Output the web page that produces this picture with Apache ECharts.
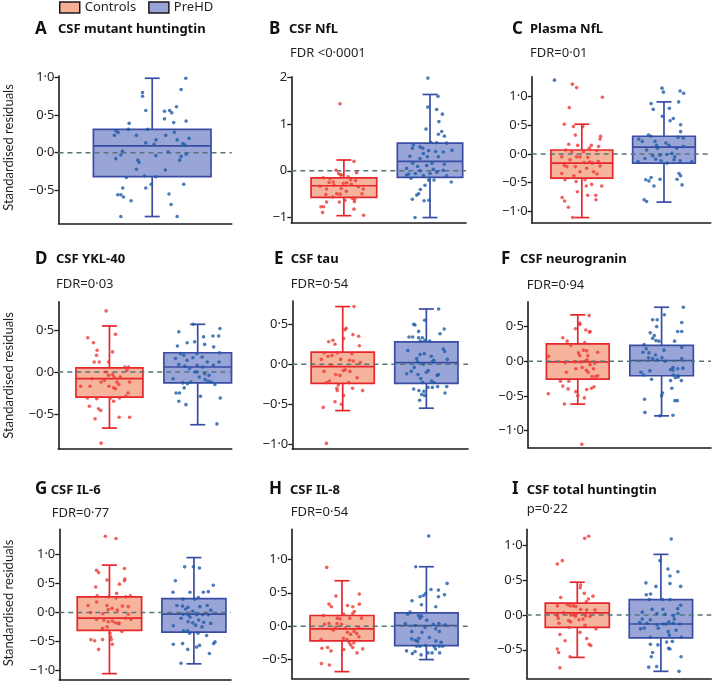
<!DOCTYPE html>
<html>
<head>
<meta charset="utf-8">
<script src="https://cdn.jsdelivr.net/npm/echarts@6/dist/echarts.min.js"></script>
<style>
html,body{margin:0;padding:0;background:#fff;}
#chart{width:714px;height:681px;}
</style>
</head>
<body>
<div id="chart"></div>
<script>
// ---------- DATA ----------
const groupNames = ['Controls', 'PreHD'];

// Tick values and labels
const aTicks = [-0.5, 0, 0.5, 1];      const aTickLabels = ['\u22120\u00b75', '0\u00b70', '0\u00b75', '1\u00b70'];
const bTicks = [-1, 0, 1, 2];          const bTickLabels = ['\u22121', '0', '1', '2'];
const cTicks = [-1, -0.5, 0, 0.5, 1];  const cTickLabels = ['\u22121\u00b70', '\u22120\u00b75', '0\u00b70', '0\u00b75', '1\u00b70'];
const dTicks = [-0.5, 0, 0.5];         const dTickLabels = ['\u22120\u00b75', '0\u00b70', '0\u00b75'];
const eTicks = [-1, -0.5, 0, 0.5];     const eTickLabels = ['\u22121\u00b70', '\u22120\u00b75', '0\u00b70', '0\u00b75'];
const fTicks = [-1, -0.5, 0, 0.5];     const fTickLabels = ['\u22121\u00b70', '\u22120\u00b75', '0\u00b70', '0\u00b75'];
const gTicks = [-1, -0.5, 0, 0.5, 1];  const gTickLabels = ['\u22121\u00b70', '\u22120\u00b75', '0\u00b70', '0\u00b75', '1\u00b70'];
const hTicks = [-0.5, 0, 0.5, 1];      const hTickLabels = ['\u22120\u00b75', '0\u00b70', '0\u00b75', '1\u00b70'];
const iTicks = [-0.5, 0, 0.5, 1];      const iTickLabels = ['\u22120\u00b75', '0\u00b70', '0\u00b75', '1\u00b70'];

// Box statistics: [min whisker, Q1, median, Q3, max whisker]
const mhttPreBox = [-0.85, -0.32, 0.09, 0.31, 0.99];
const csfNflCtrlBox = [-0.96, -0.57, -0.32, -0.15, 0.23];
const csfNflPreBox = [-1.0, -0.14, 0.20, 0.59, 1.63];
const plNflCtrlBox = [-1.11, -0.42, -0.16, 0.07, 0.52];
const plNflPreBox = [-0.84, -0.16, 0.12, 0.31, 0.91];
const yklCtrlBox = [-0.67, -0.30, -0.08, 0.05, 0.55];
const yklPreBox = [-0.63, -0.13, 0.06, 0.23, 0.57];
const tauCtrlBox = [-0.58, -0.24, -0.03, 0.15, 0.72];
const tauPreBox = [-0.55, -0.24, 0.02, 0.28, 0.69];
const ngCtrlBox = [-0.62, -0.26, -0.01, 0.25, 0.67];
const ngPreBox = [-0.79, -0.21, 0.01, 0.23, 0.78];
const il6CtrlBox = [-1.06, -0.31, -0.10, 0.27, 0.82];
const il6PreBox = [-0.89, -0.34, -0.03, 0.24, 0.95];
const il8CtrlBox = [-0.68, -0.22, -0.04, 0.16, 0.68];
const il8PreBox = [-0.50, -0.29, 0.01, 0.20, 0.89];
const thttCtrlBox = [-0.61, -0.18, 0.03, 0.17, 0.47];
const thttPreBox = [-0.81, -0.33, -0.13, 0.22, 0.87];

// Individual residuals: [jitter position (0-100 across panel), standardised residual]
const mhttPre = [[73.5,0.99],[70.8,0.84],[48.5,0.80],[48.5,0.75],[50.4,0.56],[68.1,0.61],[61.2,0.55],[64.2,0.56],[65.4,0.53],[61.2,0.45],[66.5,0.40],[73.7,0.42],[40.8,0.39],[40.4,0.31],[51.5,0.31],[33.1,0.29],[34.4,0.27],[32.3,0.23],[45,0.23],[61.9,0.23],[66.9,0.27],[68.5,0.17],[75.4,0.19],[56.3,0.17],[50.4,0.13],[55.2,0.11],[71.9,0.12],[73.1,0.10],[36.9,0.02],[36,-0.03],[33.1,-0.08],[56.2,-0.04],[63.3,0.01],[70.8,-0.05],[70,-0.10],[73.7,-0.02],[45.8,-0.10],[46.5,-0.13],[45,-0.22],[61.7,-0.23],[39.2,-0.33],[49.6,-0.31],[56.2,-0.32],[53.5,-0.42],[50.4,-0.47],[37.1,-0.47],[72.3,-0.42],[34.2,-0.56],[36,-0.56],[37.5,-0.59],[63.8,-0.55],[41.9,-0.64],[65,-0.69],[36,-0.85],[68.5,-0.85]];

const csfNflCtrl = [[27.9,1.43],[35.9,0.20],[25.6,0.01],[27.1,-0.06],[28.8,-0.09],[37.4,-0.04],[18.3,-0.15],[22.1,-0.17],[34,-0.19],[36.8,-0.21],[21.6,-0.25],[29.8,-0.27],[31.7,-0.26],[34.4,-0.29],[24.4,-0.31],[20.2,-0.39],[28.6,-0.38],[41.2,-0.39],[31.5,-0.44],[26,-0.49],[19.8,-0.51],[27.9,-0.50],[40.5,-0.49],[23.7,-0.56],[34.9,-0.59],[36.3,-0.61],[30.7,-0.63],[20.2,-0.67],[27.5,-0.67],[36.1,-0.66],[17,-0.77],[18.5,-0.77],[17.9,-0.89],[35.9,-0.82],[41.4,-0.95],[28.2,-0.09],[32.6,-0.13],[24,-0.24],[38.4,-0.34],[16.4,-0.33]];
const csfNflPre = [[78.2,1.98],[84,1.59],[78.1,1.36],[83.2,1.31],[86.5,1.21],[84.5,1.05],[77.1,0.89],[86.1,0.84],[84.2,0.78],[87.6,0.74],[79.8,0.61],[83.2,0.60],[88.9,0.59],[69.8,0.55],[73.7,0.51],[69.3,0.48],[78.6,0.43],[82.6,0.41],[92,0.44],[87,0.40],[75.6,0.37],[67.9,0.31],[77.9,0.30],[84.2,0.30],[73.7,0.26],[69.5,0.16],[80.5,0.16],[87.6,0.14],[72.3,0.09],[77.5,0.11],[66,0.05],[81.3,0.03],[73.7,0.0],[83.4,-0.03],[71,-0.06],[79.4,-0.06],[67.2,-0.07],[75.6,-0.10],[88.9,-0.11],[68.5,-0.16],[78.6,-0.20],[81.7,-0.20],[91.6,-0.24],[76.5,-0.31],[73.9,-0.40],[72.9,-0.49],[71.8,-0.52],[69.3,-0.61],[76,-0.64],[78.8,-0.63],[70.8,-1.0],[66,-0.09],[87,0.01],[75.2,0.48]];

const plNflCtrl = [[22.7,1.22],[25.1,1.16],[39.5,0.99],[21,0.81],[18.2,0.52],[28.5,0.48],[23.3,0.48],[24.4,0.33],[38.5,0.31],[38.2,0.26],[20.7,0.17],[25.7,0.15],[33.3,0.15],[37.4,0.13],[32.2,0.10],[19,0.07],[28.9,0.04],[36.3,0.06],[16.8,-0.05],[25.1,-0.05],[31.3,-0.06],[21.4,-0.10],[37.2,-0.13],[29.2,-0.15],[32.4,-0.14],[33.9,-0.16],[18.2,-0.20],[19.6,-0.22],[24.4,-0.22],[38.2,-0.21],[30.7,-0.25],[16.8,-0.34],[27,-0.31],[34.6,-0.31],[36.5,-0.35],[23.6,-0.38],[18.6,-0.45],[24.8,-0.48],[29.8,-0.45],[33.5,-0.53],[39.1,-0.56],[30.5,-0.56],[25.5,-0.66],[31.3,-0.72],[35.8,-0.72],[17,-0.76],[18.4,-0.82],[35.9,-0.80],[20.5,-0.93],[22.9,-1.11],[27,-0.05],[22.3,0.04]];
const plNflPre = [[12.7,1.29],[72.8,1.15],[73.6,1.08],[82.9,1.10],[84.9,1.06],[66.7,0.88],[82.1,0.91],[67.9,0.78],[76.9,0.80],[73,0.66],[79.1,0.62],[77.3,0.58],[83.2,0.51],[83.2,0.39],[65.2,0.33],[66.7,0.31],[81.8,0.29],[84.7,0.28],[59.8,0.26],[61.8,0.22],[68.9,0.22],[75,0.19],[76.7,0.15],[84.7,0.13],[70.2,0.10],[64.2,0.07],[81,0.10],[78.4,0.01],[71.7,-0.02],[75.4,-0.01],[67.6,-0.03],[69.3,-0.09],[63.3,-0.08],[72.3,-0.12],[79.5,-0.10],[82.9,-0.12],[59.4,-0.13],[89.4,-0.13],[75.6,-0.16],[82.3,-0.34],[83.2,-0.38],[66.7,-0.41],[71.7,-0.44],[63.7,-0.45],[65.5,-0.47],[81.2,-0.44],[68.3,-0.56],[84,-0.54],[64.2,-0.83],[62.8,-0.80],[79.9,-0.05],[69.8,0.15]];

const yklCtrl = [[27.6,0.73],[17,0.41],[20.3,0.35],[33,0.45],[22.4,0.26],[22,0.20],[31.3,0.24],[20.7,0.12],[23.6,0.12],[29,0.12],[38.4,0.06],[40.5,0.06],[39.6,0.02],[27.4,0.0],[31.3,-0.03],[29,-0.04],[19.3,-0.08],[32.2,-0.06],[24.7,-0.12],[33.8,-0.12],[41.1,-0.12],[12.9,-0.17],[18.3,-0.17],[29.2,-0.17],[31.9,-0.19],[33,-0.20],[34.9,-0.15],[40.2,-0.25],[39,-0.29],[16.8,-0.31],[22.2,-0.32],[30.3,-0.31],[31.9,-0.35],[35.3,-0.31],[17.9,-0.41],[23.2,-0.44],[24.5,-0.46],[21.2,-0.56],[35.1,-0.54],[41.1,-0.54],[24.7,-0.85],[26.6,-0.10],[35.7,-0.06]];
const yklPre = [[91.5,0.85],[77.8,0.57],[93.2,0.52],[69.5,0.48],[83.8,0.42],[89.2,0.43],[92.5,0.43],[78.6,0.36],[74.3,0.35],[68.7,0.31],[84.4,0.33],[89.6,0.30],[92.9,0.23],[70.5,0.22],[72.4,0.20],[79.9,0.22],[83,0.18],[67.6,0.16],[74.3,0.14],[77.6,0.17],[92.7,0.12],[85.9,0.12],[69.5,0.09],[73,0.07],[80.1,0.08],[83.2,0.06],[89.4,0.08],[75.7,0.04],[78.8,0.0],[84.4,-0.02],[86.9,-0.04],[81.3,-0.06],[84.7,-0.09],[66.2,-0.08],[76.4,-0.12],[86.5,-0.11],[88.2,-0.12],[71.8,-0.13],[74.5,-0.14],[90.3,-0.15],[67.9,-0.25],[69.9,-0.25],[72.6,-0.19],[93.4,-0.31],[82,-0.29],[69.5,-0.35],[73.6,-0.39],[91.5,-0.62],[80.1,0.0]];

const tauCtrl = [[35.1,0.72],[30.7,0.45],[30,0.43],[34.5,0.37],[37.8,0.35],[29.2,0.32],[23.1,0.30],[20.7,0.28],[24.3,0.25],[38.2,0.23],[18.1,0.14],[25.6,0.14],[33.9,0.13],[20.3,0.10],[22.6,0.11],[16.5,0.06],[27.5,0.06],[34.7,0.04],[38.7,0.02],[30.2,-0.07],[29.1,-0.08],[22,-0.01],[18,-0.09],[24.7,-0.13],[27.1,-0.14],[21.1,-0.21],[36.9,-0.17],[19.4,-0.23],[32.1,-0.23],[26.2,-0.26],[25.4,-0.30],[34.3,-0.30],[40,-0.33],[25.6,-0.33],[29.2,-0.39],[24.3,-0.47],[27.9,-0.50],[17.6,-0.54],[19.4,-0.99],[32.6,0.05],[32.8,-0.09]];
const tauPre = [[83.3,0.69],[75.3,0.55],[69.1,0.50],[69.8,0.49],[86.5,0.44],[71.9,0.41],[84.1,0.38],[66.4,0.34],[68.5,0.34],[71.9,0.33],[74,0.33],[75.5,0.30],[78.2,0.29],[72.9,0.29],[65.8,0.17],[85.9,0.19],[86.7,0.16],[72.7,0.12],[75.1,0.13],[79.1,0.10],[70.8,0.07],[80.5,0.05],[88.2,0.06],[79.6,0.03],[71.3,0.03],[67.7,-0.09],[76.3,-0.10],[74.6,0.0],[71.5,-0.13],[82.4,-0.14],[83.1,-0.13],[73.1,-0.18],[79.3,-0.21],[65.1,-0.12],[80.6,-0.23],[74.2,-0.23],[77.2,-0.29],[79.7,-0.29],[82.7,-0.28],[87.9,-0.28],[69.1,-0.31],[72.1,-0.33],[74.9,-0.34],[73.6,-0.38],[86.9,-0.36],[75.3,-0.39],[72.5,-0.45],[77.4,-0.08],[69.4,-0.04]];

const ngCtrl = [[33.4,0.66],[28.3,0.53],[25.9,0.47],[31.6,0.45],[33.9,0.43],[33.6,0.42],[28.3,0.55],[19,0.34],[21.4,0.29],[31,0.27],[23.4,0.23],[30.3,0.16],[32.1,0.15],[27.6,0.12],[38.1,0.13],[28.3,0.08],[32.7,0.08],[11.3,0.07],[32.3,0.02],[20.3,-0.02],[25.5,-0.01],[28.8,-0.01],[31,0.0],[36.5,-0.03],[33.9,-0.05],[29.6,-0.09],[26.1,-0.11],[31.9,-0.13],[35.8,-0.11],[21,-0.16],[32.8,-0.16],[35,-0.22],[37,-0.22],[38.1,-0.21],[17.7,-0.29],[22.3,-0.29],[19,-0.36],[36.1,-0.37],[34.7,-0.39],[21.9,-0.40],[32.1,-0.41],[26.1,-0.44],[11.1,-0.47],[27.2,-0.50],[30.8,-0.53],[19.9,-0.62],[29.4,-1.2]];
const ngPre = [[84.9,0.78],[74.5,0.67],[70.6,0.60],[68.1,0.60],[70.3,0.50],[84,0.56],[81.8,0.43],[84,0.43],[66.8,0.41],[69,0.37],[68.1,0.33],[71.5,0.29],[69.9,0.30],[80.1,0.29],[63.5,0.24],[84,0.20],[64.6,0.18],[62.8,0.13],[66.1,0.12],[74.3,0.16],[69.7,0.09],[65.9,0.05],[68.1,0.04],[70.6,0.02],[73.2,0.05],[84,0.04],[74.9,0.0],[79.2,-0.09],[81.8,-0.11],[84.7,-0.10],[77.9,-0.12],[79.2,-0.13],[61.7,-0.16],[66.6,-0.14],[63.1,-0.20],[79.4,-0.20],[81.9,-0.21],[82.1,-0.23],[80.5,-0.24],[67.5,-0.26],[77.9,-0.28],[83.8,-0.28],[78.6,-0.39],[73.5,-0.46],[73,-0.50],[63.7,-0.55],[81.6,-0.57],[80.3,-0.57],[63.9,-0.74],[79.2,-0.78],[72.1,-0.79]];

const il6Ctrl = [[26.8,1.32],[33,1.28],[21.7,0.73],[22.9,0.69],[37.9,0.76],[27.8,0.56],[38.2,0.58],[37.9,0.55],[35,0.49],[21.2,0.44],[33.4,0.33],[41.4,0.29],[22.1,0.29],[28.7,0.27],[38.8,0.27],[33,0.25],[21.7,0.18],[16.7,0.12],[27.8,0.12],[30.7,0.07],[36.7,0.11],[40.2,0.10],[33.8,0.04],[18.3,0.0],[25.4,-0.02],[40.2,-0.03],[38.6,-0.10],[41.7,-0.12],[21.7,-0.12],[26,-0.13],[30.9,-0.15],[28.5,-0.16],[32.6,-0.18],[34.6,-0.19],[25.2,-0.28],[27.8,-0.25],[36.5,-0.33],[29.5,-0.36],[29.9,-0.42],[18.4,-0.47],[20.6,-0.49],[30.3,-0.47],[25.2,-0.47],[30.9,-0.55],[22.9,-0.64],[28.5,0.05],[34.8,-0.19]];
const il6Pre = [[78.1,0.79],[73,0.79],[81.6,0.77],[67.6,0.55],[66.2,0.35],[76.1,0.35],[86.8,0.36],[89.7,0.47],[83.9,0.35],[81,0.26],[72,0.23],[78.8,0.23],[68.5,0.12],[71.8,0.11],[75,0.09],[81.9,0.10],[86.2,0.12],[88.2,0.04],[73.6,0.06],[77.7,0.02],[72.2,-0.03],[75.1,-0.04],[80,-0.04],[83.5,-0.04],[86.8,-0.04],[76.1,-0.08],[70.9,-0.10],[81.2,-0.13],[75,-0.16],[77.7,-0.18],[88.2,-0.19],[84.1,-0.17],[66.4,-0.23],[79.4,-0.22],[83.1,-0.25],[72.4,-0.32],[75.9,-0.36],[80.8,-0.36],[85.8,-0.40],[90.7,-0.51],[89.9,-0.54],[71.8,-0.54],[66.4,-0.55],[81.7,-0.57],[80,-0.60],[74.8,-0.64],[87.4,-0.71],[70.9,-0.88],[74.8,-0.32]];

const il8Ctrl = [[19.8,0.88],[25,0.45],[38.2,0.48],[21.1,0.33],[22.4,0.29],[31.6,0.31],[34.5,0.29],[38.2,0.33],[35.4,0.22],[34.5,0.19],[29.4,0.18],[17.9,0.16],[25.8,0.12],[27.3,0.11],[32.8,0.12],[39.4,0.12],[18.5,0.03],[21.1,0.04],[25.6,0.04],[24.7,-0.02],[30.3,-0.03],[37.9,-0.02],[35.2,-0.08],[31.5,-0.09],[33.3,-0.12],[36.7,-0.11],[29.2,-0.18],[31.3,-0.20],[38,-0.16],[16.6,-0.20],[32.4,-0.24],[35.1,-0.25],[33.3,-0.28],[17.1,-0.33],[20.3,-0.32],[34.5,-0.32],[40.1,-0.34],[29.4,-0.35],[22.2,-0.37],[36.9,-0.40],[16.8,-0.56],[21.3,-0.58],[28.2,0.03],[23.5,-0.06]];
const il8Pre = [[77.4,1.35],[70.1,0.89],[87.8,0.64],[78.7,0.55],[82.9,0.54],[86.3,0.47],[74.4,0.46],[72.5,0.44],[75.7,0.49],[68,0.38],[82.9,0.44],[73.3,0.32],[81.4,0.29],[66.9,0.21],[65.5,0.18],[71.6,0.16],[73.4,0.15],[64.2,0.04],[72.5,0.12],[76.3,0.09],[80,0.03],[83.2,0.04],[69.9,0.01],[75.3,-0.02],[81.4,-0.04],[86.6,0.02],[67.8,-0.08],[73.6,-0.09],[83.4,-0.08],[71.8,-0.18],[67.8,-0.19],[69.9,-0.21],[77.8,-0.17],[81.5,-0.22],[84.4,-0.24],[71.2,-0.23],[70.6,-0.30],[72.5,-0.30],[75.7,-0.29],[80.4,-0.30],[83.4,-0.30],[85.3,-0.30],[81.2,-0.34],[64.9,-0.37],[68.2,-0.41],[77,-0.40],[79.3,-0.40],[83.6,-0.40],[73.1,-0.43],[69.7,-0.38]];

const thttCtrl = [[31.4,1.10],[33.6,1.13],[19.3,0.78],[16.6,0.73],[29.2,0.43],[29,0.39],[31.2,0.31],[35.9,0.27],[18.4,0.25],[33.4,0.23],[32.3,0.19],[22,0.15],[23.5,0.13],[25.3,0.13],[26.7,0.12],[16.6,0.13],[29.2,0.08],[32.5,0.07],[37,0.07],[20,0.03],[25.3,0.0],[27.1,0.02],[16.6,-0.01],[23.8,0.0],[31.9,-0.01],[34.3,-0.02],[17.1,-0.05],[22.7,-0.08],[28.3,-0.07],[30.5,-0.06],[17.5,-0.12],[23.8,-0.10],[31.6,-0.15],[22.9,-0.18],[37.5,-0.20],[28.9,-0.25],[18,-0.28],[32.5,-0.34],[20.8,-0.37],[33.8,-0.42],[34.7,-0.44],[16.6,-0.49],[17.3,-0.54],[23.5,-0.60],[18,-0.76],[26.4,-0.02]];
const thttPre = [[78.3,1.09],[72.2,0.78],[76.5,0.66],[81.9,0.62],[77.6,0.56],[64.6,0.46],[77.6,0.45],[70,0.41],[83.4,0.41],[67.1,0.30],[64.8,0.29],[66.4,0.22],[73.6,0.22],[77.6,0.22],[83.4,0.14],[67.9,0.08],[73.8,0.08],[81.8,0.09],[62.6,0.04],[70.6,0.02],[74.9,0.01],[81.9,0.02],[79.4,-0.01],[62.6,-0.06],[67,-0.07],[61.2,-0.11],[65.2,-0.12],[77.1,-0.10],[79.4,-0.12],[80,-0.06],[70.6,-0.14],[74,-0.13],[75.5,-0.13],[83,-0.13],[61.7,-0.20],[63.7,-0.19],[71.3,-0.19],[76.7,-0.24],[80.9,-0.22],[83.8,-0.32],[67,-0.32],[77.3,-0.29],[78.9,-0.38],[67,-0.42],[71.1,-0.43],[75.8,-0.39],[76.9,-0.48],[77.6,-0.49],[68.2,-0.54],[67.5,-0.60],[83.6,-0.60],[66.1,-0.75],[70.4,-0.74],[82.5,-0.81]];

// ---------- STYLE / LAYOUT ----------
const FONT = '"Noto Sans"';
const NAMEFONT = 'Lato';
const AX = '#1a1a1a';
const TXT = '#231f20';
const ZERO = '#56757b';
const STY = {
  Controls: {fill: '#F7B49C', stroke: '#E6262B', dot: '#EE3A36', legend: '#F6AE94'},
  PreHD: {fill: '#9AA5D7', stroke: '#3A4DA5', dot: '#1E5BA8', legend: '#98A3D6'}
};

const panels = [
  {L:'A', title:'CSF mutant huntingtin', stat:'', g:[58.5,76,173.2,147.3], y:[-0.94,1.02], ticks:aTicks, labels:aTickLabels,
   lx:35, tx:58, ty:29, sx:57, sy:53,
   groups:[{name:'PreHD', box:mhttPreBox, pts:mhttPre, cx:54.1, w:67.9}]},
  {L:'B', title:'CSF NfL', stat:'FDR <0\u00b70001', g:[291.3,76.7,174.7,146], y:[-1.11,2.01], ticks:bTicks, labels:bTickLabels,
   lx:269, tx:289, ty:29, sx:290, sy:53,
   groups:[{name:'Controls', box:csfNflCtrlBox, pts:csfNflCtrl, cx:30.1, w:37.6},{name:'PreHD', box:csfNflPreBox, pts:csfNflPre, cx:79.4, w:37.4}]},
  {L:'C', title:'Plasma NfL', stat:'FDR=0\u00b701', g:[531.7,76.7,179,146], y:[-1.2,1.35], ticks:cTicks, labels:cTickLabels,
   lx:512, tx:530, ty:29, sx:530, sy:53,
   groups:[{name:'Controls', box:plNflCtrlBox, pts:plNflCtrl, cx:28, w:34.5},{name:'PreHD', box:plNflPreBox, pts:plNflPre, cx:73.9, w:35}]},
  {L:'D', title:'CSF YKL-40', stat:'FDR=0\u00b703', g:[58.3,301.7,173.4,147.3], y:[-0.92,0.84], ticks:dTicks, labels:dTickLabels,
   lx:35, tx:56, ty:259, sx:56, sy:284.5,
   groups:[{name:'Controls', box:yklCtrlBox, pts:yklCtrl, cx:29.5, w:38.6},{name:'PreHD', box:yklPreBox, pts:yklPre, cx:80.4, w:39}]},
  {L:'E', title:'CSF tau', stat:'FDR=0\u00b754', g:[292.3,301,175.7,148], y:[-1.06,0.79], ticks:eTicks, labels:eTickLabels,
   lx:274, tx:290.7, ty:259, sx:290.7, sy:284.3,
   groups:[{name:'Controls', box:tauCtrlBox, pts:tauCtrl, cx:28.7, w:35.9},{name:'PreHD', box:tauPreBox, pts:tauPre, cx:76.3, w:36}]},
  {L:'F', title:'CSF neurogranin', stat:'FDR=0\u00b794', g:[528,301.7,183,146], y:[-1.25,0.86], ticks:fTicks, labels:fTickLabels,
   lx:501, tx:520, ty:259, sx:526.7, sy:285,
   groups:[{name:'Controls', box:ngCtrlBox, pts:ngCtrl, cx:27.2, w:34.3},{name:'PreHD', box:ngPreBox, pts:ngPre, cx:73, w:34.7}]},
  {L:'G', title:'CSF IL-6', stat:'FDR=0\u00b777', g:[59.3,529.3,171.7,150.7], y:[-1.17,1.44], ticks:gTicks, labels:gTickLabels,
   lx:35, tx:50.7, ty:489.3, sx:51.7, sy:513.3,
   groups:[{name:'Controls', box:il6CtrlBox, pts:il6Ctrl, cx:29.2, w:37.5},{name:'PreHD', box:il6PreBox, pts:il6Pre, cx:78.4, w:37.3}]},
  {L:'H', title:'CSF IL-8', stat:'FDR=0\u00b754', g:[291.7,529.3,177,149], y:[-0.78,1.45], ticks:hTicks, labels:hTickLabels,
   lx:269, tx:290, ty:489.3, sx:290.7, sy:512,
   groups:[{name:'Controls', box:il8CtrlBox, pts:il8Ctrl, cx:28.4, w:36.1},{name:'PreHD', box:il8PreBox, pts:il8Pre, cx:76.1, w:35.8}]},
  {L:'I', title:'CSF total huntingtin', stat:'p=0\u00b722', g:[526.7,529.3,184.6,149], y:[-0.91,1.23], ticks:iTicks, labels:iTickLabels,
   lx:512, tx:526.7, ty:489.3, sx:526.7, sy:509.3,
   groups:[{name:'Controls', box:thttCtrlBox, pts:thttCtrl, cx:27.4, w:34.7},{name:'PreHD', box:thttPreBox, pts:thttPre, cx:72.7, w:34.3}]}
];

function makeBox(fill, stroke) {
  return function (params, api) {
    const cx = api.value(0), w = api.value(1);
    const lo = api.value(2), q1 = api.value(3), md = api.value(4), q3 = api.value(5), hi = api.value(6);
    const tl = api.coord([cx - w / 2, q3]);
    const br = api.coord([cx + w / 2, q1]);
    const mid = api.coord([cx, md]);
    const top = api.coord([cx, hi]);
    const bot = api.coord([cx, lo]);
    const cap = 7.5;
    const ls = {stroke: stroke, lineWidth: 1.7, fill: null};
    return {
      type: 'group',
      children: [
        {type: 'line', shape: {x1: top[0], y1: top[1], x2: top[0], y2: tl[1]}, style: ls},
        {type: 'line', shape: {x1: bot[0], y1: br[1], x2: bot[0], y2: bot[1]}, style: ls},
        {type: 'line', shape: {x1: top[0] - cap, y1: top[1], x2: top[0] + cap, y2: top[1]}, style: ls},
        {type: 'line', shape: {x1: bot[0] - cap, y1: bot[1], x2: bot[0] + cap, y2: bot[1]}, style: ls},
        {type: 'rect', shape: {x: tl[0], y: tl[1], width: br[0] - tl[0], height: br[1] - tl[1]},
          style: {fill: fill, stroke: stroke, lineWidth: 1.7}},
        {type: 'line', shape: {x1: tl[0], y1: mid[1], x2: br[0], y2: mid[1]}, style: ls}
      ]
    };
  };
}

const option = {
  animation: false,
  backgroundColor: '#ffffff',
  legend: {
    left: 59, top: 1, padding: 0, itemWidth: 20, itemHeight: 11, itemGap: 12, selectedMode: false,
    textStyle: {fontSize: 13, color: TXT, fontFamily: 'Noto Sans'},
    data: groupNames.map(n => ({name: n, icon: 'rect',
      itemStyle: {color: STY[n].legend, borderColor: AX, borderWidth: 1.5}}))
  },
  grid: [], xAxis: [], yAxis: [], series: [], graphic: []
};

panels.forEach((p, i) => {
  option.grid.push({left: p.g[0], top: p.g[1], width: p.g[2], height: p.g[3], containLabel: false, outerBoundsMode: 'none'});
  option.xAxis.push({
    gridIndex: i, type: 'value', min: 0, max: 100,
    axisLine: {show: true, onZero: false, lineStyle: {color: AX, width: 1.6}},
    axisTick: {show: false}, axisLabel: {show: false}, splitLine: {show: false}
  });
  option.yAxis.push({
    gridIndex: i, type: 'value', min: p.y[0], max: p.y[1],
    axisLine: {show: true, onZero: false, lineStyle: {color: AX, width: 1.6}},
    axisTick: {show: true, customValues: p.ticks, length: 4, lineStyle: {color: AX, width: 1.3}},
    axisLabel: {show: true, customValues: p.ticks, margin: 4, fontSize: 13, color: TXT, fontFamily: 'Noto Sans',
      formatter: function (v) {
        const k = p.ticks.findIndex(t => Math.abs(t - v) < 1e-9);
        return k >= 0 ? p.labels[k] : '';
      }},
    splitLine: {show: false}
  });
  p.groups.forEach(g => {
    option.series.push({
      type: 'custom', name: g.name, xAxisIndex: i, yAxisIndex: i, silent: true, z: 2,
      itemStyle: {color: STY[g.name].fill},
      renderItem: makeBox(STY[g.name].fill, STY[g.name].stroke),
      encode: {x: 0, y: [2, 3, 4, 5, 6]},
      data: [[g.cx, g.w].concat(g.box)]
    });
  });
  option.series.push({
    type: 'line', xAxisIndex: i, yAxisIndex: i, silent: true, z: 3, symbol: 'none',
    lineStyle: {type: [5, 4], color: ZERO, width: 1.5},
    data: [[0, 0], [100, 0]]
  });
  p.groups.forEach(g => {
    option.series.push({
      type: 'scatter', name: g.name, xAxisIndex: i, yAxisIndex: i, silent: true, z: 4,
      symbolSize: 3.6, itemStyle: {color: STY[g.name].dot},
      data: g.pts
    });
  });
  option.graphic.push({type: 'text', x: p.lx, y: p.ty, style: {text: p.L, font: 'bold 17px ' + FONT, fill: '#111', verticalAlign: 'middle'}});
  option.graphic.push({type: 'text', x: p.tx, y: p.ty + 0.5, style: {text: p.title, font: 'bold 13px ' + FONT, fill: '#111', verticalAlign: 'middle'}});
  if (p.stat) {
    option.graphic.push({type: 'text', x: p.sx, y: p.sy, style: {text: p.stat, font: '13px ' + FONT, fill: TXT, verticalAlign: 'middle'}});
  }
});

[147.5, 375.5, 603].forEach(cy => {
  option.graphic.push({type: 'text', x: 9, y: cy, rotation: Math.PI / 2,
    style: {text: 'Standardised residuals', font: '13px ' + NAMEFONT, fill: TXT, align: 'center', verticalAlign: 'middle'}});
});

const chart = echarts.init(document.getElementById('chart'), null, {renderer: 'canvas'});
chart.setOption(option);
</script>
</body>
</html>
